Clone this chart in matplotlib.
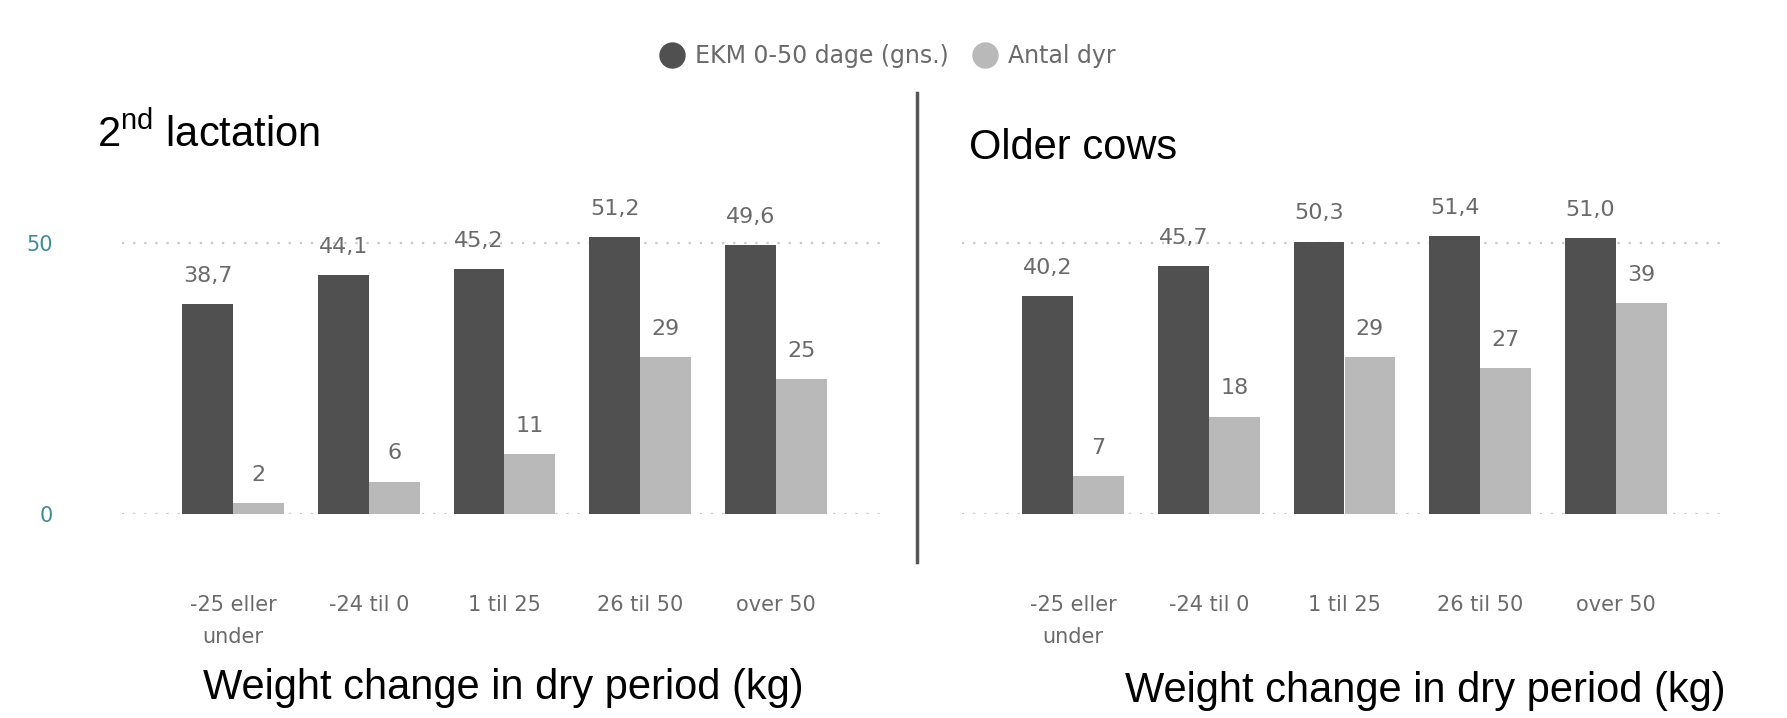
import matplotlib.pyplot as plt
from matplotlib.lines import Line2D
import numpy as np

plt.rcParams['font.family'] = ['Liberation Sans', 'DejaVu Sans']
plt.rcParams['mathtext.fontset'] = 'custom'
plt.rcParams['mathtext.rm'] = 'Liberation Sans'

# data
categories = ["-25 eller\nunder", "-24 til 0", "1 til 25", "26 til 50", "over 50"]
ekm_2nd = [38.7, 44.1, 45.2, 51.2, 49.6]
antal_2nd = [2, 6, 11, 29, 25]
ekm_older = [40.2, 45.7, 50.3, 51.4, 51.0]
antal_older = [7, 18, 29, 27, 39]

dark = "#505050"
light = "#b9b9b9"
txt = "#6a6a6a"
chart_font = "DejaVu Sans"

W, H = 1787, 718
fig = plt.figure(figsize=(W / 100, H / 100), dpi=100)

def fmt(v, dec):
    if dec:
        return f"{v:.1f}".replace(".", ",")
    return f"{v:d}"

def panel(left, ekm, antal, show_y):
    ax = fig.add_axes([left / W, (H - 514) / H, 765 / W, 325 / H])
    x = np.arange(len(categories))
    bw = 0.375
    b1 = ax.bar(x - bw / 2, ekm, bw, color=dark)
    b2 = ax.bar(x + bw / 2, antal, bw, color=light)
    for bars, vals, dec in [(b1, ekm, True), (b2, antal, False)]:
        for b, v in zip(bars, vals):
            ax.annotate(fmt(v, dec), (b.get_x() + b.get_width() / 2, v),
                        xytext=(0, 13), textcoords="offset points",
                        ha="center", va="bottom", fontsize=16, color=txt,
                        family=chart_font)
    ax.set_xlim(-0.82, 4.82)
    ax.set_ylim(0, 60)
    for yv in [0, 50]:
        ax.axhline(yv, color="#c8c8c8", lw=1.6, ls=(0, (1, 4)), zorder=0)
    for s in ax.spines.values():
        s.set_visible(False)
    ax.set_xticks(x)
    ax.set_xticklabels(categories, fontsize=15, color=txt, multialignment="center",
                       family=chart_font, linespacing=1.75)
    ax.tick_params(axis="x", length=0, pad=58)
    if show_y:
        ax.set_yticks([0, 50])
        ax.set_yticklabels(["0", "50"], fontsize=15, color="#3e8c99", family=chart_font)
        ax.tick_params(axis="y", length=0, pad=50)
    else:
        ax.set_yticks([])
    return ax

panel(122, ekm_2nd, antal_2nd, True)
panel(962, ekm_older, antal_older, False)

# separator
fig.add_artist(Line2D([917 / W, 917 / W], [1 - 93 / H, 1 - 562 / H], color="#555555", lw=2.5))

# legend
handles = [Line2D([], [], marker="o", ls="", color=dark, markersize=18),
           Line2D([], [], marker="o", ls="", color=light, markersize=18)]
fig.legend(handles, ["EKM 0-50 dage (gns.)", "Antal dyr"], loc="center",
           bbox_to_anchor=(882 / W, 1 - 56 / H), ncol=2, frameon=False,
           prop={"family": chart_font, "size": 17}, labelcolor=txt,
           handletextpad=0.0, columnspacing=0.5)

# panel titles
fig.text(97 / W, 1 - 134 / H, "2$^{\\mathrm{nd}}$ lactation", fontsize=30, color="black", va="center")
fig.text(969 / W, 1 - 148 / H, "Older cows", fontsize=30, color="black", va="center")

# axis captions
fig.text(503 / W, 1 - 688 / H, "Weight change in dry period (kg)", fontsize=30, ha="center", va="center")
fig.text(1425 / W, 1 - 691 / H, "Weight change in dry period (kg)", fontsize=30, ha="center", va="center")

fig.savefig("out.png", dpi=100, facecolor="white")
